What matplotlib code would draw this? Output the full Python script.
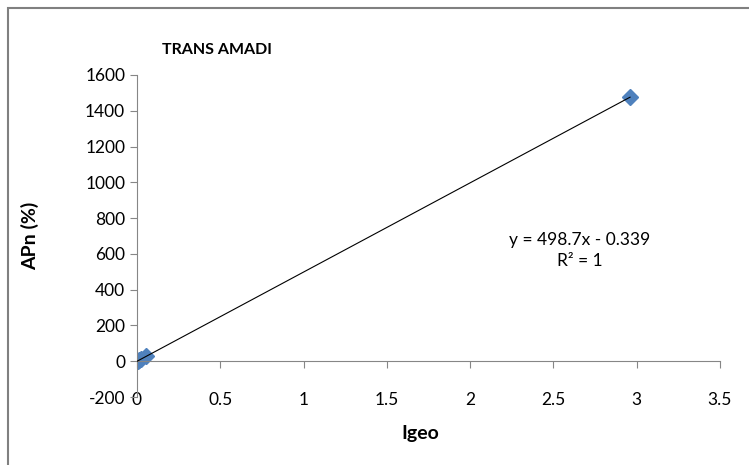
import matplotlib
matplotlib.use("Agg")
import matplotlib.pyplot as plt
from matplotlib.patches import Rectangle
import numpy as np

plt.rcParams['font.family'] = ['Lato', 'DejaVu Sans']
plt.rcParams['axes.unicode_minus'] = False

title = "TRANS AMADI"
x_label = "Igeo"
y_label = "APn (%)"
igeo = [0.0, 0.004, 0.012, 0.025, 0.055, 2.96]
apn = [0.0, 1.7, 5.6, 12.1, 27.1, 1476.0]
x_ticks = [0, 0.5, 1, 1.5, 2, 2.5, 3, 3.5]
x_tick_labels = ["0", "0.5", "1", "1.5", "2", "2.5", "3", "3.5"]
y_ticks = [-200, 0, 200, 400, 600, 800, 1000, 1200, 1400, 1600]
eq_text = "y = 498.7x - 0.339\nR² = 1"

W, H = 749, 465
fig = plt.figure(figsize=(W / 100, H / 100), dpi=100)
fig.patches.append(Rectangle((8 / W, -0.1), 1.2, 1 - 8 / H + 0.1, transform=fig.transFigure,
                             fill=False, edgecolor='#808080', linewidth=1.5))

ax = fig.add_axes([137 / W, 1 - 397 / H, (720 - 137) / W, (397 - 75) / H])
ax.set_xlim(0, 3.5)
ax.set_ylim(-200, 1600)

gray = '#868686'
for s in ['top', 'right']:
    ax.spines[s].set_visible(False)
ax.spines['bottom'].set_position(('data', 0))
ax.spines['bottom'].set_color(gray)
ax.spines['left'].set_color(gray)

ax.set_xticks(x_ticks)
ax.set_xticklabels(x_tick_labels)
ax.set_yticks(y_ticks)
ax.tick_params(axis='both', colors=gray, labelcolor='black', labelsize=12.5, length=5, direction='out')
ax.tick_params(axis='x', pad=17)

# trendline
coef = np.polyfit(igeo, apn, 1)
xs = np.array([min(igeo), max(igeo)])
ax.plot(xs, np.polyval(coef, xs), color='black', linewidth=0.8, zorder=3)
ax.plot(igeo, apn, linestyle='none', marker='D', markersize=8, color='#4F81BD',
        markeredgecolor='#4F81BD', zorder=2)

ax.text(2.66, 620, eq_text, ha='center', va='center', fontsize=12.5, linespacing=1.4)

fig.text(162 / W, 1 - 50 / H, title, ha='left', va='center', fontsize=11.5, fontweight='bold')
fig.text(30 / W, 1 - 236 / H, y_label, ha='center', va='center', rotation=90, fontsize=14, fontweight='bold')
fig.text(420 / W, 1 - 433 / H, x_label, ha='center', va='center', fontsize=14, fontweight='bold')

fig.savefig("out.png", dpi=100)
